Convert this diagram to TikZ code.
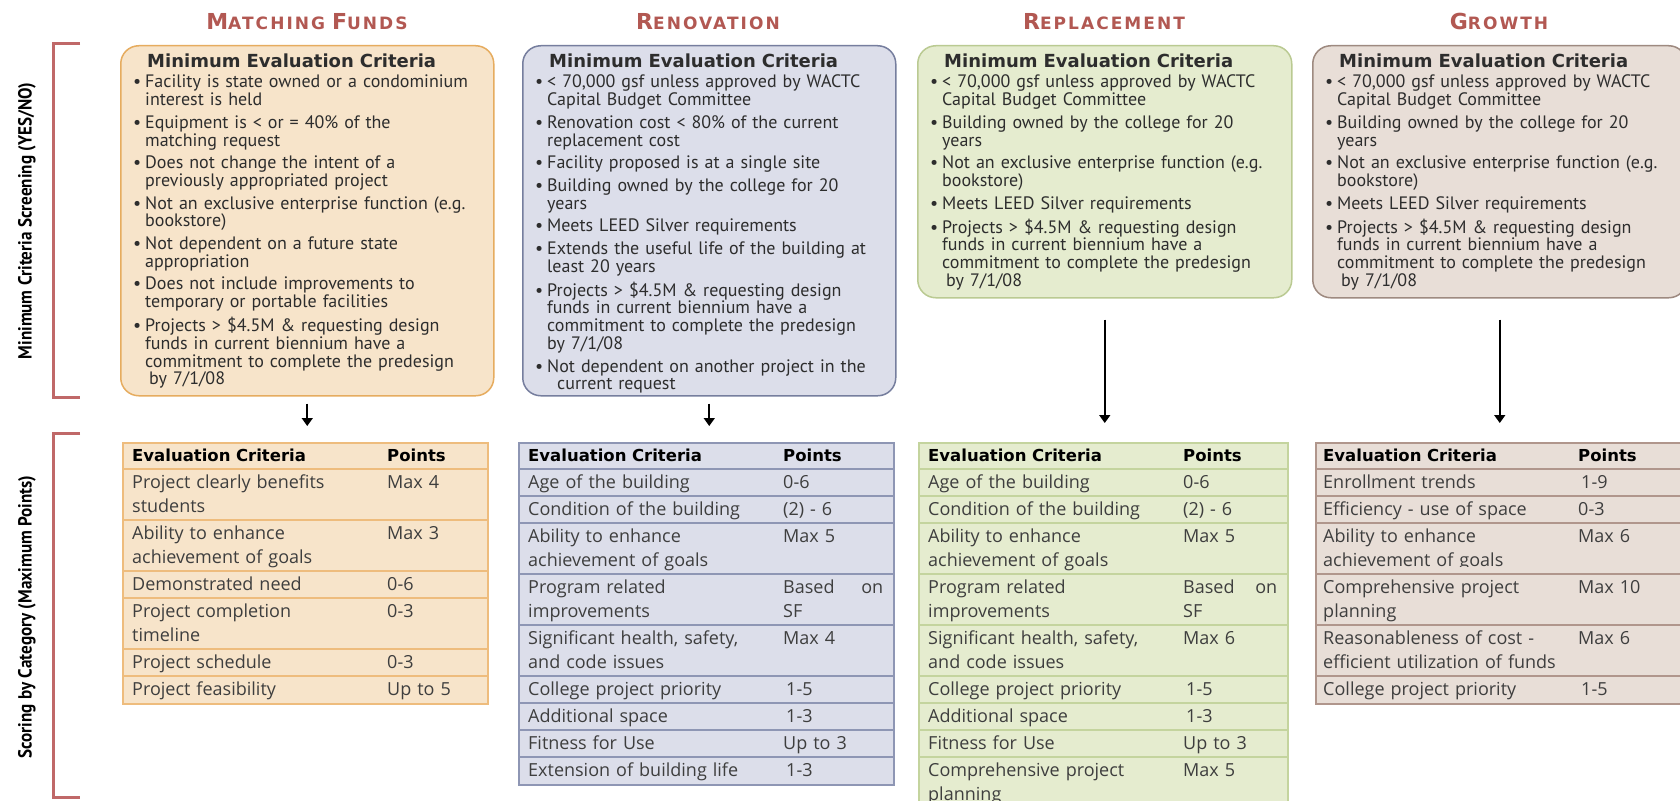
\documentclass[tikz,border=0pt]{standalone}
\usepackage{fontspec}
\usetikzlibrary{arrows.meta}
\newfontfamily\bulfont{PT Sans}
\newfontfamily\hdfont{DejaVu Sans}
\newfontfamily\tabfont{Open Sans}
\newfontfamily\ttlfont[LetterSpace=12]{DejaVu Sans Bold}
\newfontfamily\sidefont[FakeStretch=0.9]{PT Sans Bold}

\definecolor{ttl}{RGB}{178,88,82}
\definecolor{brk}{RGB}{192,104,104}
\definecolor{fA}{RGB}{247,228,202}\definecolor{dA}{RGB}{230,172,95}\definecolor{lA}{RGB}{238,188,125}
\definecolor{fB}{RGB}{220,222,234}\definecolor{dB}{RGB}{118,126,158}\definecolor{lB}{RGB}{142,150,180}
\definecolor{fC}{RGB}{229,236,207}\definecolor{dC}{RGB}{186,202,146}\definecolor{lC}{RGB}{196,212,158}
\definecolor{fD}{RGB}{232,222,215}\definecolor{dD}{RGB}{158,138,128}\definecolor{lD}{RGB}{176,150,140}
\definecolor{txt}{RGB}{45,45,45}
\definecolor{ttxt}{RGB}{62,62,62}

\newcommand\itm{\makebox[12pt][l]{•}}
\newcommand\cnt{\hspace*{12pt}}
\newcommand\cntt{\hspace*{16pt}}
\newcommand\hd{\rule{0pt}{14pt}\hspace*{14pt}{\hdfont\bfseries\fontsize{18}{17.6}\selectfont Minimum Evaluation Criteria}}
\newcommand\tsc[2]{{\fontsize{22}{22}\selectfont #1}{\fontsize{17}{17}\selectfont #2}}
\newcommand\trow[7]{%
  \node[#7] (#1c) at (#2+10,#3+5.5) {\rule{0pt}{14pt}#4};
  \node[#7, text width=#6pt] (#1p) at (#2+265,#3+5.5) {\rule{0pt}{14pt}#5};
}

\tikzset{
  mybox/.style={rounded corners=18pt, line width=1.5pt, anchor=north west, inner sep=0pt},
  boxtext/.style={anchor=north west, inner sep=0pt, text width=360pt, align=left,
    font=\bulfont\fontsize{18}{17.7}\selectfont, text=txt},
  coltitle/.style={anchor=base, text=ttl, font=\ttlfont, inner sep=0pt},
  mytab/.style={anchor=north west, inner sep=0pt, line width=2pt},
  cellc/.style={anchor=north west, inner sep=0pt, text width=250pt, align=left,
    font=\tabfont\fontsize{18}{24}\selectfont, text=ttxt},
  hdc/.style={anchor=north west, inner sep=0pt, text width=250pt, align=left,
    font=\hdfont\bfseries\fontsize{16.5}{24}\selectfont, text=black},
  arr/.style={-{Triangle[width=11pt,length=8pt]}, line width=1.6pt},
  brkline/.style={draw=brk, line width=3pt},
  sidelab/.style={rotate=90, font=\sidefont\fontsize{19}{19}\selectfont, inner sep=0pt},
}

\begin{document}
\begin{tikzpicture}[x=1pt,y=-1pt]
\useasboundingbox (0,0) rectangle (1680,800);
\fill[white] (0,0) rectangle (1680,800);
\clip (0,0) rectangle (1680,800);

% brackets and side labels
\draw[brkline] (80,44) -- (53,44) -- (53,397) -- (80,397);
\draw[brkline] (80,433) -- (53,433) -- (53,797) -- (80,797);
\node[sidelab] (lab1) at (27,221) {Minimum Criteria Screening (YES/NO)};
\node[sidelab] (lab2) at (27,617) {Scoring by Category (Maximum Points)};

% column titles
\node[coltitle] (h1) at (307,30) {\tsc{M}{ATCHING}\hspace{7pt}\tsc{F}{UNDS}};
\node[coltitle] (h2) at (708,30) {\tsc{R}{ENOVATION}};
\node[coltitle] (h3) at (1104,30) {\tsc{R}{EPLACEMENT}};
\node[coltitle] (h4) at (1499,30) {\tsc{G}{ROWTH}};

% minimum criteria boxes
\node[mybox, fill=fA, draw=dA, minimum width=373pt, minimum height=350pt] (b1) at (120,45) {};
\node[mybox, fill=fB, draw=dB, minimum width=373pt, minimum height=350pt] (b2) at (522,45) {};
\node[mybox, fill=fC, draw=dC, minimum width=374pt, minimum height=252pt] (b3) at (917,45) {};
\node[mybox, fill=fD, draw=dD, minimum width=374pt, minimum height=252pt] (b4) at (1312,45) {};

\node[boxtext] (b1t) at (133,53) {\hd\\[3pt]
\itm Facility is state owned or a condominium\\
\cnt interest is held\\[5pt]
\itm Equipment is < or = 40\% of the\\
\cnt matching request\\[5pt]
\itm Does not change the intent of a\\
\cnt previously appropriated project\\[5pt]
\itm Not an exclusive enterprise function (e.g.\\
\cnt bookstore)\\[5pt]
\itm Not dependent on a future state\\
\cnt appropriation\\[5pt]
\itm Does not include improvements to\\
\cnt temporary or portable facilities\\[5pt]
\itm Projects > \$4.5M \& requesting design\\
\cnt funds in current biennium have a\\
\cnt commitment to complete the predesign\\
\cntt by 7/1/08};

\node[boxtext] (b2t) at (535,53) {\hd\\[3pt]
\itm < 70,000 gsf unless approved by WACTC\\
\cnt Capital Budget Committee\\[5pt]
\itm Renovation cost < 80\% of the current\\
\cnt replacement cost\\[5pt]
\itm Facility proposed is at a single site\\[5pt]
\itm Building owned by the college for 20\\
\cnt years\\[5pt]
\itm Meets LEED Silver requirements\\[5pt]
\itm Extends the useful life of the building at\\
\cnt least 20 years\\[5pt]
\itm Projects > \$4.5M \& requesting design\\
\cnt funds in current biennium have a\\
\cnt commitment to complete the predesign\\
\cnt by 7/1/08\\[5pt]
\itm Not dependent on another project in the\\
\hspace*{22pt}current request};

\node[boxtext] (b3t) at (930,53) {\hd\\[3pt]
\itm < 70,000 gsf unless approved by WACTC\\
\cnt Capital Budget Committee\\[5pt]
\itm Building owned by the college for 20\\
\cnt years\\[5pt]
\itm Not an exclusive enterprise function (e.g.\\
\cnt bookstore)\\[5pt]
\itm Meets LEED Silver requirements\\[5pt]
\itm Projects > \$4.5M \& requesting design\\
\cnt funds in current biennium have a\\
\cnt commitment to complete the predesign\\
\cntt by 7/1/08};

\node[boxtext] (b4t) at (1325,53) {\hd\\[3pt]
\itm < 70,000 gsf unless approved by WACTC\\
\cnt Capital Budget Committee\\[5pt]
\itm Building owned by the college for 20\\
\cnt years\\[5pt]
\itm Not an exclusive enterprise function (e.g.\\
\cnt bookstore)\\[5pt]
\itm Meets LEED Silver requirements\\[5pt]
\itm Projects > \$4.5M \& requesting design\\
\cnt funds in current biennium have a\\
\cnt commitment to complete the predesign\\
\cntt by 7/1/08};

% tables
\node[mytab, fill=fA, draw=lA, minimum width=365pt, minimum height=261pt] (t1) at (122,442) {};
\foreach \yy in {469,520,571,598,649,676} \draw[lA, line width=2pt] (122,\yy) -- (487,\yy);
\node[mytab, fill=fB, draw=lB, minimum width=375pt, minimum height=342pt] (t2) at (518,442) {};
\foreach \yy in {469,496,523,574,625,676,703,730,757} \draw[lB, line width=2pt] (518,\yy) -- (893,\yy);
\node[mytab, fill=fC, draw=lC, minimum width=369pt, minimum height=366pt] (t3) at (918,442) {};
\foreach \yy in {469,496,523,574,625,676,703,730,757} \draw[lC, line width=2pt] (918,\yy) -- (1287,\yy);
\node[mytab, fill=fD, draw=lD, minimum width=375pt, minimum height=261pt] (t4) at (1315,442) {};
\foreach \yy in {469,496,523,574,625,676} \draw[lD, line width=2pt] (1315,\yy) -- (1690,\yy);

% table 1
\trow{ta0}{122}{442}{Evaluation Criteria}{Points}{100}{hdc}
\trow{ta1}{122}{469}{Project clearly benefits\\students}{Max 4}{100}{cellc}
\trow{ta2}{122}{520}{Ability to enhance\\achievement of goals}{Max 3}{100}{cellc}
\trow{ta3}{122}{571}{Demonstrated need}{0-6}{100}{cellc}
\trow{ta4}{122}{598}{Project completion\\timeline}{0-3}{100}{cellc}
\trow{ta5}{122}{649}{Project schedule}{0-3}{100}{cellc}
\trow{ta6}{122}{676}{Project feasibility}{Up to 5}{100}{cellc}

% table 2
\trow{tb0}{518}{442}{Evaluation Criteria}{Points}{100}{hdc}
\trow{tb1}{518}{469}{Age of the building}{0-6}{100}{cellc}
\trow{tb2}{518}{496}{Condition of the building}{(2) - 6}{100}{cellc}
\trow{tb3}{518}{523}{Ability to enhance\\achievement of goals}{Max 5}{100}{cellc}
\trow{tb4}{518}{574}{Program related\\improvements}{Based\hfill on\\SF}{100}{cellc}
\trow{tb5}{518}{625}{Significant health, safety,\\and code issues}{Max 4}{100}{cellc}
\trow{tb6}{518}{676}{College project priority}{\,1-5}{100}{cellc}
\trow{tb7}{518}{703}{Additional space}{\,1-3}{100}{cellc}
\trow{tb8}{518}{730}{Fitness for Use}{Up to 3}{100}{cellc}
\trow{tb9}{518}{757}{Extension of building life}{\,1-3}{100}{cellc}

% table 3
\trow{tc0}{918}{442}{Evaluation Criteria}{Points}{94}{hdc}
\trow{tc1}{918}{469}{Age of the building}{0-6}{94}{cellc}
\trow{tc2}{918}{496}{Condition of the building}{(2) - 6}{94}{cellc}
\trow{tc3}{918}{523}{Ability to enhance\\achievement of goals}{Max 5}{94}{cellc}
\trow{tc4}{918}{574}{Program related\\improvements}{Based\hfill on\\SF}{94}{cellc}
\trow{tc5}{918}{625}{Significant health, safety,\\and code issues}{Max 6}{94}{cellc}
\trow{tc6}{918}{676}{College project priority}{\,1-5}{94}{cellc}
\trow{tc7}{918}{703}{Additional space}{\,1-3}{94}{cellc}
\trow{tc8}{918}{730}{Fitness for Use}{Up to 3}{94}{cellc}
\trow{tc9}{918}{757}{Comprehensive project\\planning}{Max 5}{94}{cellc}

% table 4
\trow{td0}{1313}{442}{Evaluation Criteria}{Points}{100}{hdc}
\trow{td1}{1313}{469}{Enrollment trends}{\,1-9}{100}{cellc}
\trow{td2}{1313}{496}{Efficiency - use of space}{0-3}{100}{cellc}
\begin{scope}
\clip (1300,523) rectangle (1560,566);
\node[cellc] (td3c) at (1323,528.5) {\rule{0pt}{14pt}Ability to enhance\\achievement of goals};
\end{scope}
\node[cellc, text width=100pt] (td3p) at (1578,528.5) {\rule{0pt}{14pt}Max 6};
\trow{td4}{1313}{574}{Comprehensive project\\planning}{Max 10}{100}{cellc}
\trow{td5}{1313}{625}{Reasonableness of cost -\\efficient utilization of funds}{Max 6}{100}{cellc}
\trow{td6}{1313}{676}{College project priority}{\,1-5}{100}{cellc}

% arrows
\coordinate (e1) at (b1.south |- t1.north);
\coordinate (e2) at (b2.south |- t2.north);
\coordinate (e3) at (b3.south |- t3.north);
\coordinate (e4) at (b4.south |- t4.north);
\draw[arr] ([yshift=-7pt]b1.south) -- ([yshift=16pt]e1);
\draw[arr] ([yshift=-7pt]b2.south) -- ([yshift=16pt]e2);
\draw[arr] ([yshift=-21pt]b3.south) -- ([yshift=19pt]e3);
\draw[arr] ([yshift=-21pt]b4.south) -- ([yshift=19pt]e4);
\end{tikzpicture}
\end{document}
